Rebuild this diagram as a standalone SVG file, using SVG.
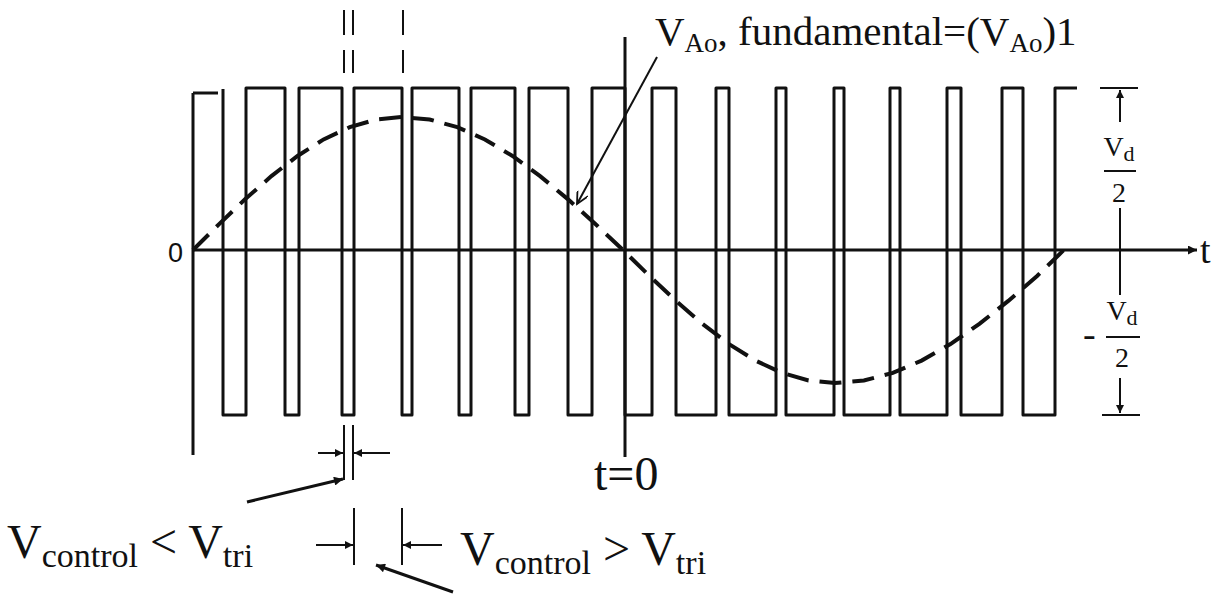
<svg xmlns="http://www.w3.org/2000/svg" width="1226" height="597" viewBox="0 0 1226 597">
<defs>
<marker id="ah" viewBox="0 0 10 10" refX="10" refY="5" markerUnits="userSpaceOnUse" markerWidth="13" markerHeight="9" orient="auto">
<path d="M0,0 L10,5 L0,10 z" fill="#111"/>
</marker>
<marker id="ahs" viewBox="0 0 10 10" refX="10" refY="5" markerUnits="userSpaceOnUse" markerWidth="10" markerHeight="8" orient="auto">
<path d="M0,0 L10,5 L0,10 z" fill="#111"/>
</marker>
<marker id="aho" viewBox="0 0 10 10" refX="10" refY="5" markerUnits="userSpaceOnUse" markerWidth="16" markerHeight="12" orient="auto">
<path d="M0,0 L10,5 L0,10" fill="none" stroke="#111" stroke-width="1.5"/>
</marker>
</defs>
<style>
.ln{stroke:#111;fill:none;stroke-width:3;stroke-linejoin:round}
.thin{stroke:#111;fill:none;stroke-width:2}
.dash{stroke:#111;fill:none;stroke-width:2;stroke-dasharray:25 15}
.sine{stroke:#111;fill:none;stroke-width:4;stroke-dasharray:22 11}
.txt{font-family:"Liberation Serif","Times New Roman",serif;fill:#111}
.sans{font-family:"Liberation Sans",Arial,sans-serif;fill:#111}
</style>
<rect width="1226" height="597" fill="#fff"/>

<g id="axes">
<line class="ln" x1="193" y1="93" x2="193" y2="455"/>
<line class="ln" x1="193" y1="93" x2="218" y2="93"/>
<line class="ln" x1="625" y1="37" x2="625" y2="457"/>
</g>

<g id="pwm-waveform">
<path class="ln" d="M223,89 V415 H246 V88 H285 V415 H299 V88 H342 V415 H354 V88 H402 V415 H412 V88 H459 V415 H471 V88 H515 V415 H529 V88 H568 V415 H592 V88 H625 V415 H652 V88 H676 V415 H716 V88 H729 V415 H776 V88 H786 V415 H834 V88 H844 V415 H890 V88 H900 V415 H947 V88 H961 V415 H1002 V88 H1023 V415 H1055 V88 H1077"/>
</g>

<g id="fundamental">
<polyline class="sine" points="193,250 219.1,224.05 245.3,199.1 271.4,176.11 297.5,155.96 323.6,139.41 349.8,127.12 375.9,119.55 402,117 429.6,119.55 457.3,127.12 484.9,139.41 512.5,155.96 540.1,176.11 567.8,199.1 595.4,224.05 623,250 649.5,275.95 676,300.9 702.5,323.89 729,344.04 755.5,360.59 782,372.88 808.5,380.45 835,383 863.9,380.45 892.8,372.88 921.6,360.59 950.5,344.04 979.4,323.89 1008.3,300.9 1037.1,275.95 1068,246"/>
</g>

<g id="top-markers">
<line class="dash" x1="344" y1="10" x2="344" y2="73"/>
<line class="dash" x1="353" y1="10" x2="353" y2="73"/>
<line class="dash" x1="403" y1="10" x2="403" y2="73"/>
</g>

<g id="vd-bracket">
<line class="thin" x1="1100" y1="88" x2="1138" y2="88"/>
<line class="thin" x1="1102" y1="415" x2="1140" y2="415"/>
<line class="thin" x1="1120" y1="208" x2="1120" y2="295"/>
<line class="thin" x1="1104" y1="171" x2="1136" y2="171"/>
<line class="thin" x1="1106" y1="337" x2="1140" y2="337"/>
<text class="txt" x="1119" y="156" font-size="28" text-anchor="middle">V<tspan font-size="22" dy="5">d</tspan></text>
<text class="txt" x="1119" y="202" font-size="28" text-anchor="middle">2</text>
<text class="txt" x="1122" y="320" font-size="28" text-anchor="middle">V<tspan font-size="22" dy="5">d</tspan></text>
<text class="txt" x="1122" y="367" font-size="28" text-anchor="middle">2</text>
<text class="txt" x="1083" y="347" font-size="38">-</text>
</g>

<g id="labels">
<text class="sans" x="168" y="262" font-size="27">0</text>
<text class="txt" x="1200" y="263" font-size="38">t</text>
<text class="txt" x="594" y="490" font-size="48">t=0</text>
<text class="txt" x="655" y="45" font-size="41">V<tspan font-size="27" dy="7">Ao</tspan><tspan dy="-7">, fundamental=(V</tspan><tspan font-size="27" dy="7">Ao</tspan><tspan dy="-7">)1</tspan></text>
<text class="txt" x="7" y="558" font-size="48">V<tspan font-size="34" dy="9">control</tspan><tspan dy="-9"> &lt; V</tspan><tspan font-size="34" dy="9">tri</tspan></text>
<text class="txt" x="460" y="565" font-size="48">V<tspan font-size="34" dy="9">control</tspan><tspan dy="-9"> &gt; V</tspan><tspan font-size="34" dy="9">tri</tspan></text>
</g>

<g id="dimensions">
<line class="thin" x1="344" y1="425" x2="344" y2="480"/>
<line class="thin" x1="353" y1="425" x2="353" y2="480"/>
<line class="thin" x1="354" y1="508" x2="354" y2="565"/>
<line class="thin" x1="402" y1="508" x2="402" y2="565"/>
</g>

<g id="connectors">
<line class="ln" x1="193" y1="250" x2="1197" y2="250" marker-end="url(#ah)"/>
<line class="thin" x1="1120" y1="122" x2="1120" y2="90" marker-end="url(#ahs)"/>
<line class="thin" x1="1120" y1="378" x2="1120" y2="413" marker-end="url(#ahs)"/>
<line class="thin" x1="318" y1="453" x2="343" y2="453" marker-end="url(#ahs)"/>
<line class="thin" x1="390" y1="453" x2="354" y2="453" marker-end="url(#ahs)"/>
<line class="thin" x1="316" y1="545" x2="353" y2="545" marker-end="url(#ahs)"/>
<line class="thin" x1="442" y1="545" x2="403" y2="545" marker-end="url(#ahs)"/>
<line class="ln" x1="247" y1="502" x2="343" y2="479" marker-end="url(#ah)"/>
<line class="ln" x1="453" y1="592" x2="376" y2="565" marker-end="url(#ah)"/>
<line class="thin" x1="657" y1="57" x2="577" y2="204" marker-end="url(#aho)"/>
</g>
</svg>
